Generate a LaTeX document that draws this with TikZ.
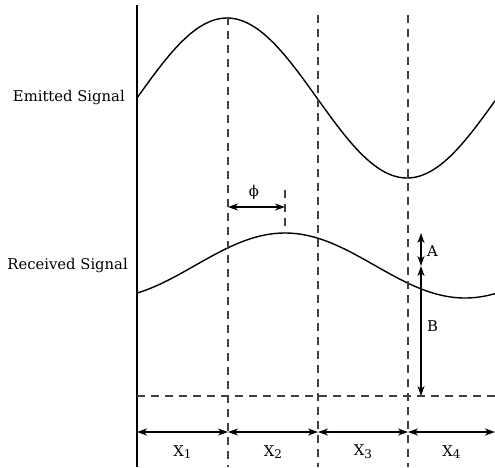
\documentclass[tikz,border=0pt]{standalone}
\usepackage{fontspec}
\setmainfont{DejaVu Serif}
\usetikzlibrary{arrows.meta,calc}
\tikzset{
  axisline/.style={line width=2.2pt},
  dashline/.style={line width=1.3pt, black!75, dash pattern=on 8pt off 6pt},
  wave/.style={line width=1.4pt},
  dimarrow/.style={line width=1.3pt, {Stealth[length=10pt,width=7pt,inset=3pt]}-{Stealth[length=10pt,width=7pt,inset=3pt]}},
  lbl/.style={font=\fontsize{14.8}{17}\selectfont, inner sep=1pt}
}
\newcommand{\xsub}[1]{X\raisebox{-0.35ex}{\fontsize{12}{12}\selectfont #1}}
\begin{document}
\begin{tikzpicture}[x=1pt, y=-1pt]
    \useasboundingbox (0,0) rectangle (495,467);
    % axis
    \coordinate (top) at (137,5);
    \coordinate (bot) at (137,467);
    \draw[axisline] (top) -- (bot);

    % emitted signal: peak, zero, trough
    \draw[wave] plot[domain=137:495, samples=120] (\x, {98 - 80*sin(\x-137)});
    % received signal, shifted by phi
    \draw[wave] plot[domain=137:495, samples=120] (\x, {265.5 - 32.5*cos(\x-285)});

    \node[lbl, anchor=east] (emit) at (126,98) {Emitted Signal};
    \node[lbl, anchor=east] (recv) at (129,266) {Received Signal};

    % dashed markers
    \foreach \xx/\yy [count=\i] in {228/17, 318/15, 408/15} {
        \coordinate (m\i) at (\xx,\yy);
        \coordinate (d\i) at (\xx,432);
        \draw[dashline] (m\i) -- (\xx,467);
    }
    \coordinate (phitop) at (285,190);
    \coordinate (phibot) at (285,233);
    \draw[dashline] (phitop) -- (phibot);

    % base line
    \coordinate (base0) at (137,396);
    \coordinate (base1) at (495,396);
    \draw[dashline] (base0) -- (base1);

    % phase shift
    \draw[dimarrow] (228,207) -- (285,207);
    \node[lbl] (phi) at (254,192) {ϕ};

    % A and B
    \coordinate (Atop) at (421,233);
    \coordinate (Amid) at (421,266);
    \coordinate (Bbot) at (421,396);
    \draw[dimarrow] (Atop) -- (Amid);
    \draw[dimarrow] (Amid) -- (Bbot);
    \node[lbl, anchor=west] (A) at (426,251) {A};
    \node[lbl, anchor=west] (B) at (426,326) {B};

    % intervals
    \coordinate (d0) at (137,432);
    \coordinate (d4) at (495,432);
    \foreach \a/\b/\n in {d0/d1/1, d1/d2/2, d2/d3/3, d3/d4/4} {
        \draw[dimarrow] (\a) -- (\b);
        \node[lbl] (x\n) at ($(\a)!0.5!(\b)+(0,20)$) {\xsub{\n}};
    }
\end{tikzpicture}
\end{document}
